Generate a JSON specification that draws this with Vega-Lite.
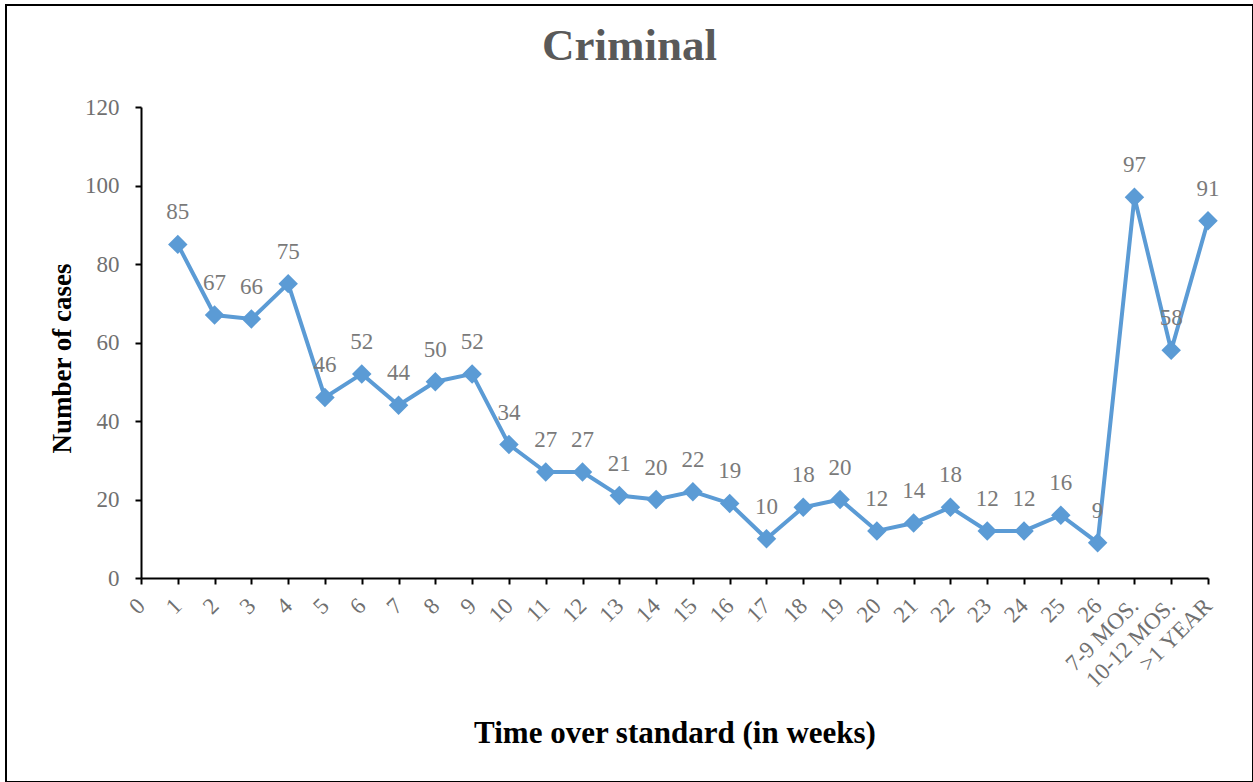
{
  "$schema": "https://vega.github.io/schema/vega-lite/v6.json",
  "width": 1247,
  "height": 777,
  "autosize": {"type": "none"},
  "padding": {"left": 6, "top": 5, "right": 0, "bottom": 0},
  "background": "white",
  "title": {
    "text": "Criminal",
    "font": "Liberation Serif",
    "fontSize": 45,
    "fontWeight": "bold",
    "color": "#595959",
    "anchor": "middle",
    "frame": "group",
    "baseline": "alphabetic",
    "offset": -100
  },
  "data": {
    "values": [
      {"t": "1", "v": 85},
      {"t": "2", "v": 67},
      {"t": "3", "v": 66},
      {"t": "4", "v": 75},
      {"t": "5", "v": 46},
      {"t": "6", "v": 52},
      {"t": "7", "v": 44},
      {"t": "8", "v": 50},
      {"t": "9", "v": 52},
      {"t": "10", "v": 34},
      {"t": "11", "v": 27},
      {"t": "12", "v": 27},
      {"t": "13", "v": 21},
      {"t": "14", "v": 20},
      {"t": "15", "v": 22},
      {"t": "16", "v": 19},
      {"t": "17", "v": 10},
      {"t": "18", "v": 18},
      {"t": "19", "v": 20},
      {"t": "20", "v": 12},
      {"t": "21", "v": 14},
      {"t": "22", "v": 18},
      {"t": "23", "v": 12},
      {"t": "24", "v": 12},
      {"t": "25", "v": 16},
      {"t": "26", "v": 9},
      {"t": "7-9 MOS.", "v": 97},
      {"t": "10-12 MOS.", "v": 58},
      {"t": ">1 YEAR", "v": 91}
    ]
  },
  "encoding": {
    "x": {
      "field": "t",
      "type": "ordinal",
      "scale": {
        "type": "point",
        "domain": ["0","1","2","3","4","5","6","7","8","9","10","11","12","13","14","15","16","17","18","19","20","21","22","23","24","25","26","7-9 MOS.","10-12 MOS.",">1 YEAR"],
        "range": [135, 1202],
        "padding": 0
      },
      "axis": {
        "title": "Time over standard (in weeks)",
        "titleFont": "Liberation Serif",
        "titleFontSize": 31,
        "titleFontWeight": "bold",
        "titleColor": "black",
        "titleY": 164,
        "titleBaseline": "alphabetic",
        "labelAngle": -45,
        "labelAlign": "right",
        "labelBaseline": "middle",
        "labelFont": "Liberation Serif",
        "labelFontSize": 23,
        "labelColor": "#707070",
        "labelPadding": 18,
        "labelOverlap": false,
        "tickSize": 6,
        "tickColor": "black",
        "tickWidth": 2,
        "domainColor": "black",
        "domainWidth": 2,
        "offset": -204,
        "grid": false
      }
    },
    "y": {
      "field": "v",
      "type": "quantitative",
      "scale": {"domain": [0, 120], "range": [573, 102], "nice": false},
      "axis": {
        "title": "Number of cases",
        "titleFont": "Liberation Serif",
        "titleFontSize": 27,
        "titleFontWeight": "bold",
        "titleColor": "black",
        "titleX": -71,
        "titleY": 353,
        "titleAngle": 270,
        "titleAlign": "center",
        "titleBaseline": "alphabetic",
        "values": [0, 20, 40, 60, 80, 100, 120],
        "labelFont": "Liberation Serif",
        "labelFontSize": 23,
        "labelColor": "#707070",
        "labelPadding": 16,
        "tickSize": 6,
        "tickColor": "black",
        "tickWidth": 2,
        "domainColor": "black",
        "domainWidth": 2,
        "offset": -135,
        "grid": false
      }
    }
  },
  "layer": [
    {"mark": {"type": "line", "color": "#5B9BD5", "strokeWidth": 4}},
    {"mark": {"type": "point", "shape": "diamond", "filled": true, "size": 380, "color": "#5B9BD5", "opacity": 1}},
    {
      "mark": {"type": "text", "font": "Liberation Serif", "fontSize": 23, "color": "#7A7A7A", "baseline": "alphabetic", "align": "center", "dy": -25},
      "encoding": {"text": {"field": "v", "type": "quantitative"}}
    }
  ],
  "config": {
    "view": {"stroke": "black", "strokeWidth": 2}
  }
}
